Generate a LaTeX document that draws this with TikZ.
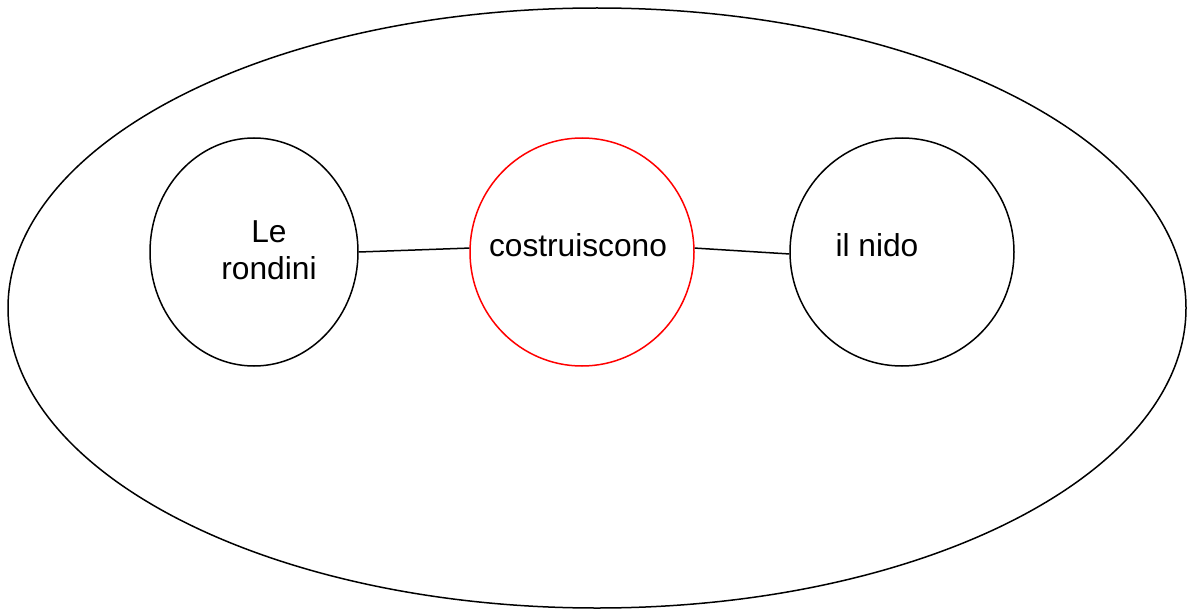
\documentclass[tikz,border=0pt]{standalone}
\usepackage{fontspec}
\setmainfont{Liberation Sans}
\usepackage{tikz}
\usetikzlibrary{shapes.geometric}
\usetikzlibrary{graphs}

\tikzset{
    cerchio/.style={draw=black, line width=0.75pt, ellipse, inner sep=0pt},
    parola/.style={font=\fontsize{15.85}{18.5}\selectfont, align=center, inner sep=0pt},
}

\begin{document}
\begin{tikzpicture}[x=0.5pt, y=0.5pt]
        \useasboundingbox (0, 0) rectangle (1189, 612);

        \node[cerchio, minimum width=589pt, minimum height=300pt] (frase) at (597, 304) {};

        \node[cerchio, minimum width=104pt, minimum height=114pt] (rond) at (254, 360) {};
        \node[cerchio, draw=red, minimum width=112pt, minimum height=114pt] (cost) at (582, 360) {};
        \node[cerchio, minimum width=112pt, minimum height=114pt] (nido) at (902, 360) {};

        \node[parola]              (trond) at (269, 362) {Le\\rondini};
        \node[parola, anchor=base] (tcost) at (578, 356) {costruiscono};
        \node[parola, anchor=base] (tnido) at (877, 356) {il nido};

        \graph[edges={line width=0.75pt}] {(rond.east) -- (cost.178)};
        \graph[edges={line width=0.75pt}] {(cost.2)    -- (nido.181)};
    \end{tikzpicture}
\end{document}
